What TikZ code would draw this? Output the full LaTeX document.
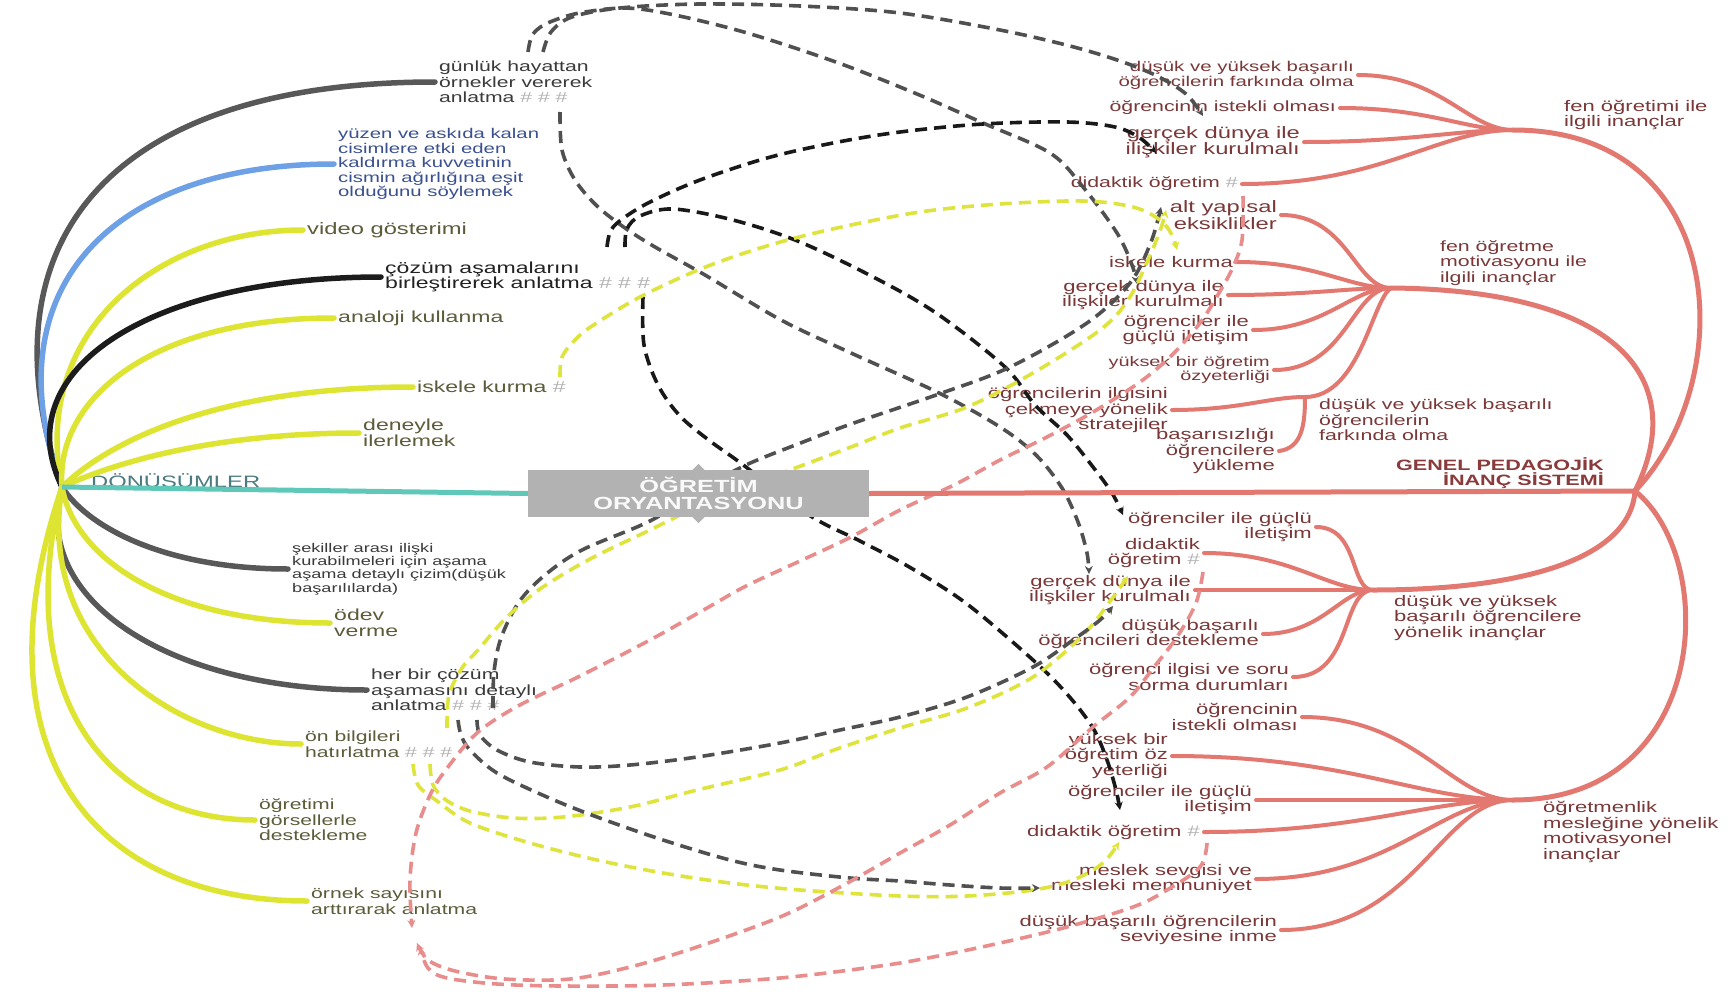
\documentclass[tikz,border=0pt]{standalone}
\usepackage{fontspec}
\setmainfont{Liberation Sans}[FakeStretch=1.44]
\usetikzlibrary{arrows.meta}

% palette
\definecolor{cTeal}{RGB}{95,200,185}
\definecolor{cRed}{RGB}{226,120,112}
\definecolor{cYel}{RGB}{222,228,50}
\definecolor{cBlue}{RGB}{110,160,230}
\definecolor{cGray}{RGB}{88,88,88}
\definecolor{cBlk}{RGB}{28,28,28}
\definecolor{lkGray}{RGB}{80,80,80}
\definecolor{lkBlk}{RGB}{25,25,25}
\definecolor{lkYel}{RGB}{222,228,60}
\definecolor{lkRed}{RGB}{232,140,140}
\definecolor{tG}{RGB}{58,58,58}
\definecolor{tK}{RGB}{34,34,34}
\definecolor{tB}{RGB}{58,80,144}
\definecolor{tY}{RGB}{92,92,58}
\definecolor{tT}{RGB}{75,122,128}
\definecolor{tR}{RGB}{122,56,56}
\definecolor{tGen}{RGB}{138,58,58}
\definecolor{hashc}{RGB}{180,180,180}
\definecolor{cBox}{RGB}{178,178,178}

% type sizes
\newcommand\szL{\fontsize{16}{15.5}\selectfont}
\newcommand\szN{\fontsize{14.7}{15.5}\selectfont}
\newcommand\szM{\fontsize{14.1}{14.5}\selectfont}
\newcommand\szV{\fontsize{16.5}{15.5}\selectfont}
\newcommand\szS{\fontsize{12.6}{13.3}\selectfont}
\newcommand\szR{\fontsize{15.3}{15.5}\selectfont}
\newcommand\szRa{\fontsize{14.2}{15}\selectfont}
\newcommand\szRb{\fontsize{14.8}{15.5}\selectfont}
\newcommand\szB{\fontsize{16.5}{15}\selectfont}
\newcommand\szT{\fontsize{13.8}{14.5}\selectfont}
\newcommand\szD{\fontsize{16.5}{16}\selectfont}
\newcommand\szG{\fontsize{15}{15.5}\selectfont\bfseries}
\newcommand\szC{\fontsize{17.6}{17}\selectfont\bfseries}
\newcommand\hs[1]{{\color{hashc}#1}}

\begin{document}
\begin{tikzpicture}[x=1pt,y=-1pt,
  lt/.style={anchor=west, align=left, inner xsep=4pt, inner ysep=0pt, font=\szL},
  rt/.style={anchor=east, align=right, inner xsep=4pt, inner ysep=0pt, font=\szR, text=tR},
  lab/.style={anchor=west, align=left, inner sep=0pt, font=\szR, text=tR},
  lbr/.style={line width=5.5pt, line cap=round},
  rbr/.style={line width=4pt, line cap=round, draw=cRed},
  rarc/.style={line width=5pt, line cap=round, draw=cRed},
  kid/.style={out=0, in=180, out looseness=1.3, in looseness=0.7},
  lnk/.style={line width=3.6pt, dash pattern=on 12pt off 7pt, line cap=butt,
              -{Stealth[length=8pt,width=8pt]}},
  corebox/.style={fill=cBox, text=white!95!gray, font=\szC, align=center,
              minimum width=341pt, minimum height=47pt, inner sep=0pt}
]
\path[use as bounding box, fill=white] (0,0) rectangle (1731,993);

% ---------- hubs ----------
\coordinate (lhub) at (62,487);
\coordinate (rhub) at (1635,491);
\coordinate (g1hub) at (1513,130);
\coordinate (g2hub) at (1391,288);
\coordinate (ss) at (1305,397);
\coordinate (g3hub) at (1373,590);
\coordinate (g4hub) at (1513,800);

% ---------- left topics ----------
\node[lt, text=tG, font=\szN] (gunluk) at (435,82) {günlük hayattan\\örnekler vererek\\anlatma \hs{\# \# \#}};
\node[lt, text=tB, font=\szM] (yuzen) at (334,164) {yüzen ve askıda kalan\\cisimlere etki eden\\kaldırma kuvvetinin\\cismin ağırlığına eşit\\olduğunu söylemek};
\node[lt, text=tY, font=\szV] (video) at (303,230) {video gösterimi};
\node[lt, text=tK] (cozum) at (381,277) {çözüm aşamalarını\\birleştirerek anlatma \hs{\# \# \#}};
\node[lt, text=tY] (analoji) at (334,318) {analoji kullanma};
\node[lt, text=tY] (iskeleL) at (413,387) {iskele kurma \hs{\#}};
\node[lt, text=tY] (deneyle) at (359,433) {deneyle\\ilerlemek};
\node[lt, text=tT, font=\szD] (donus) at (87,482) {DÖNÜŞÜMLER};
\node[lt, text=tG, font=\szS] (sekil) at (288,569) {şekiller arası ilişki\\kurabilmeleri için aşama\\aşama detaylı çizim(düşük\\başarılılarda)};
\node[lt, text=tY] (odev) at (330,623) {ödev\\verme};
\node[lt, text=tG, font=\szN] (herbir) at (367,690) {her bir çözüm\\aşamasını detaylı\\anlatma \hs{\# \# \#}};
\node[lt, text=tY, font=\szN] (onbilgi) at (301,744) {ön bilgileri\\hatırlatma \hs{\# \# \#}};
\node[lt, text=tY, font=\szN] (gorsel) at (255,820) {öğretimi\\görsellerle\\destekleme};
\node[lt, text=tY, font=\szN] (ornek) at (307,901) {örnek sayısını\\arttırarak anlatma};

% ---------- left branches ----------
\draw[lbr, cGray] (lhub) .. controls (-20,250) and (100,82) .. (gunluk.west);
\draw[lbr, cBlue] (lhub) .. controls (-10,290) and (110,164) .. (yuzen.west);
\draw[lbr, cYel] (lhub) .. controls (30,330) and (160,230) .. (video.west);
\draw[lbr, cBlk] (lhub) .. controls (5,370) and (150,277) .. (cozum.west);
\draw[lbr, cYel] (lhub) .. controls (55,400) and (150,318) .. (analoji.west);
\draw[lbr, cYel] (lhub) .. controls (110,440) and (220,387) .. (iskeleL.west);
\draw[lbr, cYel] (lhub) .. controls (120,460) and (220,433) .. (deneyle.west);
\draw[lbr, cGray] (lhub) .. controls (90,530) and (170,569) .. (sekil.west);
\draw[lbr, cYel] (lhub) .. controls (75,560) and (170,623) .. (odev.west);
\draw[lbr, cGray] (lhub) .. controls (30,600) and (170,690) .. (herbir.west);
\draw[lbr, cYel] (lhub) .. controls (35,650) and (180,744) .. (onbilgi.west);
\draw[lbr, cYel] (lhub) .. controls (10,700) and (110,820) .. (gorsel.west);
\draw[lbr, cYel] (lhub) .. controls (-30,760) and (100,901) .. (ornek.west);

% ---------- right side: fen öğretimi ile ilgili inançlar ----------
\node[lab] (g1lab) at (1564,115) {fen öğretimi ile\\ilgili inançlar};
\node[rt, font=\szRa] (r1a) at (1358,75) {düşük ve yüksek başarılı\\öğrencilerin farkında olma};
\node[rt, font=\szRb] (r1b) at (1340,108) {öğrencinin istekli olması};
\node[rt, font=\szB] (r1c) at (1304,142) {gerçek dünya ile\\ilişkiler kurulmalı};
\node[rt, font=\szRb] (r1d) at (1242,184) {didaktik öğretim \hs{\#}};

% ---------- fen öğretme motivasyonu ile ilgili inançlar ----------
\node[lab, font=\szRb] (g2lab) at (1440,263) {fen öğretme\\motivasyonu ile\\ilgili inançlar};
\node[rt, font=\szB] (r2a) at (1281,215) {alt yapısal\\eksiklikler};
\node[rt] (r2b) at (1237,262) {iskele kurma};
\node[rt] (r2c) at (1228,295) {gerçek dünya ile\\ilişkiler kurulmalı};
\node[rt] (r2d) at (1253,330) {öğrenciler ile\\güçlü iletişim};
\node[rt, font=\szT] (r2e) at (1274,370) {yüksek bir öğretim\\özyeterliği};
\node[rt] (r2f) at (1172,410) {öğrencilerin ilgisini\\çekmeye yönelik\\stratejiler};
\node[rt] (r2g) at (1279,451) {başarısızlığı\\öğrencilere\\yükleme};
\node[lab, font=\szRb] (sslab) at (1319,420) {düşük ve yüksek başarılı\\öğrencilerin\\farkında olma};

% ---------- düşük ve yüksek başarılı öğrencilere yönelik inançlar ----------
\node[lab] (g3lab) at (1394,618) {düşük ve yüksek\\başarılı öğrencilere\\yönelik inançlar};
\node[rt] (r3a) at (1316,527) {öğrenciler ile güçlü\\iletişim};
\node[rt] (r3b) at (1204,553) {didaktik\\öğretim \hs{\#}};
\node[rt] (r3c) at (1195,590) {gerçek dünya ile\\ilişkiler kurulmalı};
\node[rt] (r3d) at (1263,634) {düşük başarılı\\öğrencileri destekleme};
\node[rt] (r3e) at (1293,677) {öğrenci ilgisi ve soru\\sorma durumları};

% ---------- öğretmenlik mesleğine yönelik motivasyonel inançlar ----------
\node[lab] (g4lab) at (1543,832) {öğretmenlik\\mesleğine yönelik\\motivasyonel\\inançlar};
\node[rt] (r4a) at (1302,717) {öğrencinin\\istekli olması};
\node[rt] (r4b) at (1172,756) {yüksek bir\\öğretim öz\\yeterliği};
\node[rt] (r4c) at (1256,800) {öğrenciler ile güçlü\\iletişim};
\node[rt] (r4d) at (1204,832) {didaktik öğretim \hs{\#}};
\node[rt] (r4e) at (1256,879) {meslek sevgisi ve\\mesleki memnuniyet};
\node[rt] (r4f) at (1281,930) {düşük başarılı öğrencilerin\\seviyesine inme};

\node[rt, font=\szG, text=tGen] (genel) at (1608,473) {GENEL PEDAGOJİK\\İNANÇ SİSTEMİ};

% ---------- right branches ----------
\draw[rarc] (rhub) .. controls (1740,380) and (1730,130) .. (g1hub);
\draw[rarc] (rhub) .. controls (1690,380) and (1620,290) .. (g2hub);
\draw[rarc] (rhub) .. controls (1630,560) and (1520,590) .. (g3hub);
\draw[rarc] (rhub) .. controls (1720,560) and (1710,800) .. (g4hub);

\foreach \n in {r1a,r1b,r1c,r1d} \draw[rbr] (\n.east) to[kid] (g1hub);
\foreach \n in {r2a,r2b,r2c,r2d,r2e} \draw[rbr] (\n.east) to[kid] (g2hub);
\draw[rbr] (ss) .. controls (1360,397) and (1372,300) .. (g2hub);
\draw[rbr] (r2f.east) to[kid] (ss);
\draw[rbr] (r2g.east) .. controls (1302,448) and (1305,425) .. (ss);
\foreach \n in {r3a,r3b,r3c,r3d,r3e} \draw[rbr] (\n.east) to[kid] (g3hub);
\foreach \n in {r4a,r4b,r4c,r4d,r4e,r4f} \draw[rbr] (\n.east) to[kid] (g4hub);

% ---------- cross-link end points ----------
\coordinate (gunA) at (528,52);  \coordinate (gunB) at (543,52);  \coordinate (gunC) at (560,112);
\coordinate (cozA) at (607,247); \coordinate (cozB) at (625,247); \coordinate (cozC) at (643,297);
\coordinate (iskA) at (560,377);
\coordinate (herA) at (493,708); \coordinate (herB) at (458,720); \coordinate (herC) at (477,720);
\coordinate (onbA) at (447,728); \coordinate (onbB) at (413,764); \coordinate (onbC) at (430,764);
\coordinate (d1) at (1243,196);  \coordinate (d3) at (1203,572);  \coordinate (d4) at (1207,843);
\coordinate (eG1) at (1203,116); \coordinate (eG2) at (1137,284); \coordinate (eG3) at (1089,574);
\coordinate (eC1) at (1156,153); \coordinate (eC2) at (1123,515); \coordinate (eC3) at (1120,810);
\coordinate (eH1) at (1161,207); \coordinate (eY1) at (1166,210); \coordinate (eI1) at (1177,250);
\coordinate (eY2) at (1128,576); \coordinate (eY3) at (1119,842); \coordinate (eH2) at (1113,606);
\coordinate (eH3) at (1040,888);
\coordinate (eR1) at (412,928);  \coordinate (eR2) at (417,943);  \coordinate (eR3) at (420,947);

% ---------- cross-links ----------
\draw[lnk, lkGray] plot[smooth, tension=.55] coordinates {(gunB) (551,32) (572,17) (620,8) (700,4) (800,6) (900,13) (1000,30) (1070,46) (1120,61) (1157,76) (1186,94) (eG1)};
\draw[lnk, lkGray] plot[smooth, tension=.55] coordinates {(gunA) (533,34) (550,22) (585,12) (640,9) (733,29) (833,61) (917,94) (983,123) (1050,153) (1083,187) (1117,233) (1132,265) (eG2)};
\draw[lnk, lkGray] plot[smooth, tension=.55] coordinates {(gunC) (562,150) (575,180) (597,206) (625,228) (655,247) (705,275) (781,320) (851,353) (939,393) (1000,427) (1036,455) (1062,488) (1078,522) (1087,553) (eG3)};
\draw[lnk, lkBlk] plot[smooth, tension=.55] coordinates {(cozA) (611,230) (625,217) (652,201) (700,180) (767,158) (833,143) (900,132) (983,124) (1067,122) (1115,127) (1140,138) (eC1)};
\draw[lnk, lkBlk] plot[smooth, tension=.55] coordinates {(cozB) (627,229) (640,216) (673,209) (733,220) (800,242) (879,280) (939,315) (1005,367) (1035,405) (1067,435) (1093,467) (1112,493) (eC2)};
\draw[lnk, lkBlk] plot[smooth, tension=.55] coordinates {(cozC) (644,345) (658,385) (680,416) (710,441) (742,464) (809,515) (860,541) (911,568) (967,604) (1033,660) (1067,694) (1093,728) (1107,760) (1116,790) (eC3)};
\draw[lnk, lkGray] plot[smooth, tension=.55] coordinates {(herA) (494,672) (501,638) (519,602) (545,575) (582,550) (650,521) (700,490) (746,465) (798,444) (851,424) (939,394) (1010,367) (1087,323) (1130,283) (1151,242) (eH1)};
\draw[lnk, lkYel] plot[smooth, tension=.55] coordinates {(onbA) (449,695) (462,668) (478,650) (506,618) (540,589) (590,559) (650,530) (720,496) (798,467) (851,447) (900,428) (967,407) (1033,373) (1100,330) (1128,300) (1148,260) (1161,228) (eY1)};
\draw[lnk, lkYel] plot[smooth, tension=.55] coordinates {(iskA) (562,357) (575,340) (592,326) (640,297) (703,268) (770,245) (837,228) (920,212) (1000,204) (1083,201) (1133,207) (1160,220) (1172,235) (eI1)};
\draw[lnk, lkYel] plot[smooth, tension=.55] coordinates {(onbC) (433,785) (446,800) (470,811) (513,818) (563,817) (630,807) (697,790) (780,770) (834,750) (900,728) (967,708) (1033,677) (1083,635) (1111,600) (eY2)};
\draw[lnk, lkYel] plot[smooth, tension=.55] coordinates {(onbB) (418,785) (437,801) (470,823) (530,843) (597,860) (663,873) (730,883) (800,890) (900,896) (967,896) (1033,890) (1073,880) (1103,863) (eY3)};
\draw[lnk, lkGray] plot[smooth, tension=.55] coordinates {(herC) (480,735) (497,750) (530,762) (580,767) (630,765) (697,757) (780,743) (840,730) (900,717) (967,697) (1033,667) (1073,640) (1100,620) (eH2)};
\draw[lnk, lkGray] plot[smooth, tension=.55] coordinates {(herB) (461,735) (470,750) (497,773) (547,797) (597,817) (663,840) (730,860) (780,870) (850,878) (900,881) (950,885) (1000,888) (eH3)};
\draw[lnk, lkRed] plot[smooth, tension=.55] coordinates {(d1) (1242,240) (1233,267) (1219,293) (1200,323) (1172,355) (1140,382) (1093,412) (1047,437) (1000,460) (956,484) (900,510) (851,537) (800,561) (746,586) (707,608) (650,640) (580,676) (518,706) (477,733) (448,767) (431,793) (416,833) (410,880) (eR1)};
\draw[lnk, lkRed] plot[smooth, tension=.55] coordinates {(d3) (1196,603) (1177,637) (1154,667) (1130,697) (1093,727) (1047,767) (1000,793) (950,825) (900,853) (840,887) (780,917) (697,947) (630,967) (570,979) (505,979) (455,971) (428,960) (eR2)};
\draw[lnk, lkRed] plot[smooth, tension=.55] coordinates {(d4) (1200,867) (1167,890) (1133,907) (1067,927) (1000,943) (933,957) (880,966) (780,978) (663,985) (563,986) (497,984) (447,978) (428,968) (eR3)};

% ---------- centre ----------
\node[corebox] (core) at (698.5,493.5) {ÖĞRETİM\\ORYANTASYONU};
\fill[cBox] ([xshift=-6pt]core.north) -- ([yshift=6pt]core.north) -- ([xshift=6pt]core.north) -- cycle;
\fill[cBox] ([xshift=-6pt]core.south) -- ([yshift=-6pt]core.south) -- ([xshift=6pt]core.south) -- cycle;
\draw[line width=5pt, cTeal] (lhub) -- (core.west);
\draw[line width=5pt, cRed] (core.east) -- (rhub);
\end{tikzpicture}
\end{document}
